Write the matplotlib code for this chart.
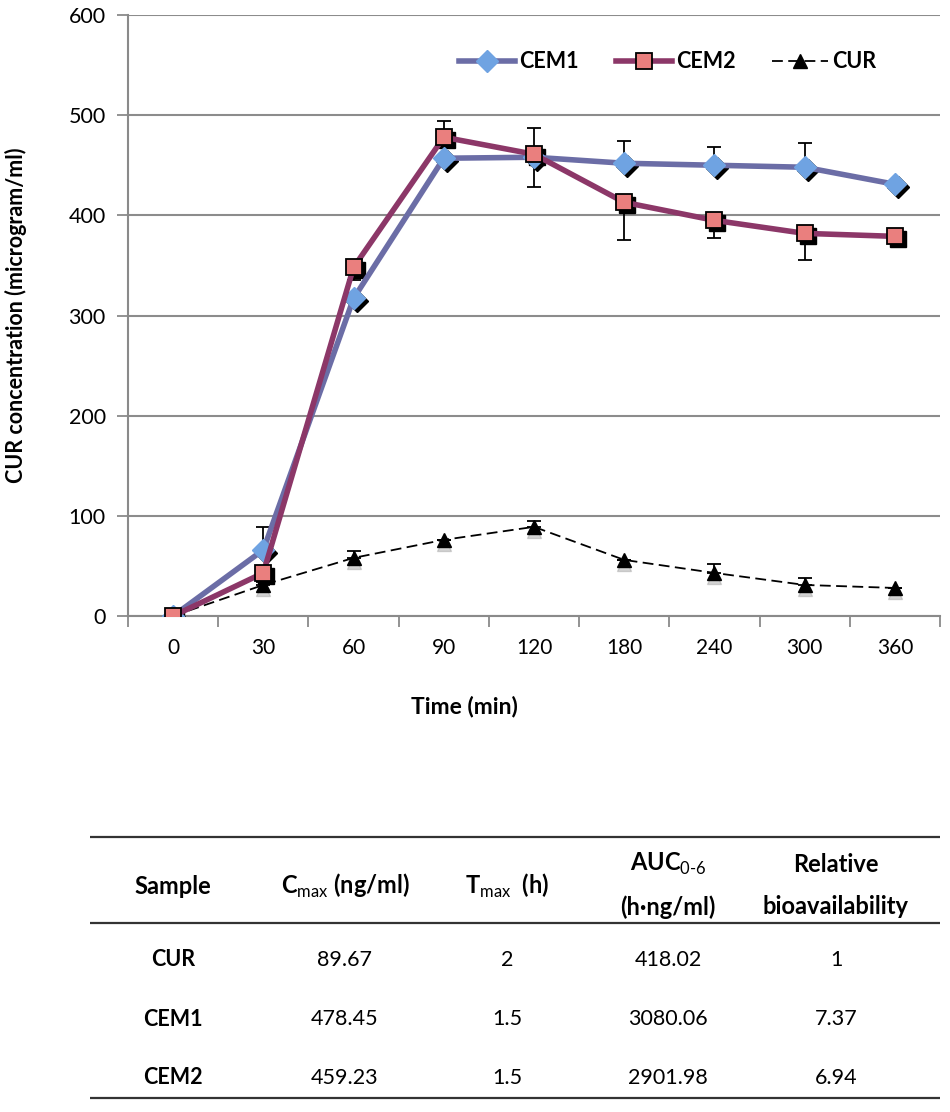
import matplotlib
matplotlib.use("Agg")
import matplotlib.pyplot as plt
from matplotlib.transforms import offset_copy
import numpy as np

plt.rcParams["font.family"] = ["Lato", "DejaVu Sans"]
plt.rcParams["mathtext.fontset"] = "custom"
plt.rcParams["mathtext.rm"] = "Lato"
plt.rcParams["mathtext.bf"] = "Lato:bold"

# time points (categorical axis)
times = ["0", "30", "60", "90", "120", "180", "240", "300", "360"]

cem1 = [0, 66, 317, 457, 458, 452, 450, 448, 431]
cem1_lo = [0, 0, 0, 0, 30, 0, 0, 0, 0]
cem1_hi = [0, 23, 0, 0, 29, 22, 18, 24, 0]

cem2 = [0, 43, 348, 478, 461, 413, 395, 382, 379]
cem2_lo = [0, 0, 13, 0, 0, 38, 18, 27, 0]
cem2_hi = [0, 0, 0, 16, 0, 0, 0, 0, 0]

cur = [0, 31, 58, 76, 89, 56, 43, 31, 28]
cur_lo = [0, 0, 0, 0, 0, 0, 0, 0, 0]
cur_hi = [0, 3, 7, 0, 6, 0, 9, 7, 0]

# summary table
tbl_samples = ["CUR", "CEM1", "CEM2"]
tbl_cmax = ["89.67", "478.45", "459.23"]
tbl_tmax = ["2", "1.5", "1.5"]
tbl_auc = ["418.02", "3080.06", "2901.98"]
tbl_rel = ["1", "7.37", "6.94"]

fig = plt.figure(figsize=(9.5, 11.12), dpi=100)
ax = fig.add_axes([128 / 950, 1 - 616 / 1112, 812 / 950, 601 / 1112])

x = np.arange(len(times))
shadow = offset_copy(ax.transData, fig=fig, x=3, y=-3, units="dots")
gshadow = offset_copy(ax.transData, fig=fig, x=0, y=-4, units="dots")

# marker shadows
ax.plot(x, cem1, ls="none", marker="D", ms=11, color="black", transform=shadow, zorder=3)
ax.plot(x, cem2, ls="none", marker="s", ms=12, color="black", transform=shadow, zorder=3)
ax.plot(x, cur, ls="none", marker="^", ms=10, color="#a0a0a0", alpha=0.45, transform=gshadow, zorder=3)

# error bars
ebar = dict(fmt="none", ecolor="black", elinewidth=1.3, capsize=5, capthick=1.3, zorder=2)
ax.errorbar(x, cem1, yerr=[cem1_lo, cem1_hi], **ebar)
ax.errorbar(x, cem2, yerr=[cem2_lo, cem2_hi], **ebar)
ax.errorbar(x, cur, yerr=[cur_lo, cur_hi], **ebar)

l1, = ax.plot(x, cem1, color="#6B6DA6", lw=4, marker="D", ms=11, mfc="#6FA3E2", mec="#6FA3E2", zorder=4, label="CEM1")
l2, = ax.plot(x, cem2, color="#8C3768", lw=4, marker="s", ms=12, mfc="#EA7F7E", mec="black", mew=1.3, zorder=5, label="CEM2")
l3, = ax.plot(x, cur, color="black", lw=1.3, ls=(0, (6, 3)), marker="^", ms=10, mfc="black", mec="black", zorder=4, label="CUR")

ax.set_xlim(-0.5, len(times) - 0.5)
ax.set_ylim(0, 600)
ax.set_yticks(range(0, 601, 100))
ax.set_xticks(x)
ax.set_xticklabels(times)
ax.set_xticks(np.arange(-0.5, len(times), 1), minor=True)
ax.tick_params(axis="x", which="major", length=0, pad=16, labelsize=15)
ax.tick_params(axis="x", which="minor", length=8, width=1.3, color="#8a8a8a")
ax.tick_params(axis="y", length=8, width=1.3, color="#8a8a8a", labelsize=15.5, pad=8)
ax.grid(axis="y", color="#8c8c8c", lw=1.5)
ax.set_axisbelow(True)
for s in ("top", "right"):
    ax.spines[s].set_visible(False)
for s in ("left", "bottom"):
    ax.spines[s].set_color("#8a8a8a")
    ax.spines[s].set_linewidth(1.5)

ax.set_xlabel("Time (min)", fontsize=16.5, fontweight="bold")
ax.xaxis.set_label_coords(0.414, -0.133)
ax.set_ylabel("CUR concentration (microgram/ml)", fontsize=15.5, fontweight="bold")
ax.yaxis.set_label_coords(-0.124, 0.5)

leg = ax.legend(handles=[l1, l2, l3], loc="center", bbox_to_anchor=(0.665, 0.922), ncol=3,
                frameon=False, prop={"weight": "bold", "size": 15.5}, handlelength=2.6,
                handletextpad=0.2, columnspacing=1.7)

# table below the chart
tax = fig.add_axes([90 / 950, 1 - 1100 / 1112, 850 / 950, 265 / 1112])
tax.set_xlim(90, 940)
tax.set_ylim(1100, 835)
tax.axis("off")
for yy in (837, 923, 1098):
    tax.axhline(yy, color="#333333", lw=1.6)

col_x = [173, 345, 507, 668, 836]
hfs = 17
fs = 15.5
tax.text(col_x[0], 886, "Sample", ha="center", va="center", fontsize=hfs, fontweight="bold")
tax.text(col_x[1], 886, r"C$_{\mathrm{max}}$ (ng/ml)", ha="center", va="center", fontsize=hfs, fontweight="bold")
tax.text(col_x[2], 886, r"T$_{\mathrm{max}}$  (h)", ha="center", va="center", fontsize=hfs, fontweight="bold")
tax.text(col_x[3], 864, r"AUC$_{\mathrm{0\text{-}6}}$", ha="center", va="center", fontsize=hfs, fontweight="bold")
tax.text(col_x[3], 907, "(h\u00b7ng/ml)", ha="center", va="center", fontsize=hfs, fontweight="bold")
tax.text(col_x[4], 864, "Relative", ha="center", va="center", fontsize=hfs, fontweight="bold")
tax.text(col_x[4], 907, "bioavailability", ha="center", va="center", fontsize=hfs, fontweight="bold")

row_y = [960, 1019, 1078]
for i, ry in enumerate(row_y):
    tax.text(col_x[0], ry, tbl_samples[i], ha="center", va="center", fontsize=fs, fontweight="bold")
    tax.text(col_x[1], ry, tbl_cmax[i], ha="center", va="center", fontsize=fs)
    tax.text(col_x[2], ry, tbl_tmax[i], ha="center", va="center", fontsize=fs)
    tax.text(col_x[3], ry, tbl_auc[i], ha="center", va="center", fontsize=fs)
    tax.text(col_x[4], ry, tbl_rel[i], ha="center", va="center", fontsize=fs)

fig.savefig("out.png", dpi=100)
